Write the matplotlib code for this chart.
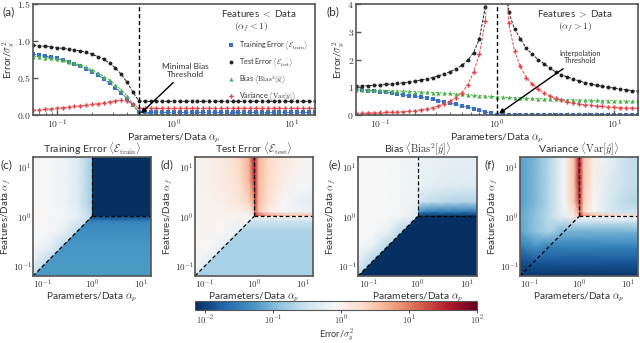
import numpy as np
import matplotlib
matplotlib.use("Agg")
import matplotlib.pyplot as plt
from matplotlib.patches import Polygon
from matplotlib.lines import Line2D
from matplotlib.ticker import FuncFormatter, FixedLocator, LogLocator, NullFormatter
from matplotlib.colors import Normalize
from matplotlib.cm import ScalarMappable

plt.rcParams["font.family"] = ["Lato", "DejaVu Sans"]
plt.rcParams["mathtext.fontset"] = "cm"
plt.rcParams["font.size"] = 7

# ---------------- line plots (a) and (b) ----------------
# alpha_p sampled every 0.05 decade from 1/16 to 16
log_alpha_p = np.arange(-1.2, 1.2001, 0.05)
alpha_p = 10 ** log_alpha_p

# (a) features < data, alpha_f = 0.5
train_a = [0.82, 0.81, 0.795, 0.78, 0.765, 0.745, 0.72, 0.69, 0.66, 0.625,
           0.585, 0.54, 0.49, 0.43, 0.37, 0.30, 0.22, 0.13, 0.04] + [0.035] * 30
test_a = [0.94, 0.935, 0.93, 0.92, 0.91, 0.90, 0.89, 0.88, 0.865, 0.845,
          0.82, 0.79, 0.755, 0.70, 0.635, 0.55, 0.44, 0.31, 0.19] + [0.185] * 30
bias_a = [0.79, 0.785, 0.775, 0.765, 0.755, 0.74, 0.72, 0.70, 0.675, 0.645,
          0.61, 0.57, 0.52, 0.47, 0.41, 0.34, 0.26, 0.15, 0.01] + [0.0] * 30
var_a = [0.065, 0.07, 0.078, 0.085, 0.092, 0.10, 0.108, 0.116, 0.124, 0.133,
         0.143, 0.155, 0.167, 0.18, 0.192, 0.20, 0.19, 0.15, 0.09] + [0.09] * 30

# (b) features > data
train_b = [0.91, 0.895, 0.88, 0.86, 0.84, 0.82, 0.79, 0.76, 0.73, 0.70,
           0.67, 0.64, 0.60, 0.56, 0.52, 0.47, 0.43, 0.38, 0.33, 0.28,
           0.23, 0.17, 0.115, 0.06, 0.0] + [0.0] * 24
test_b = [1.04, 1.05, 1.06, 1.07, 1.08, 1.10, 1.12, 1.14, 1.16, 1.19,
          1.22, 1.26, 1.30, 1.35, 1.41, 1.48, 1.56, 1.66, 1.79, 1.97,
          2.25, 2.75, 3.9, 7.5, np.nan,
          7.0, 3.7, 3.1, 2.75, 2.4, 2.2, 2.0, 1.85, 1.7, 1.55,
          1.45, 1.37, 1.3, 1.23, 1.17, 1.12, 1.07, 1.03, 1.0, 0.97,
          0.94, 0.91, 0.88, 0.86]
bias_b = [0.91, 0.905, 0.90, 0.895, 0.89, 0.88, 0.875, 0.865, 0.86, 0.85,
          0.84, 0.83, 0.82, 0.81, 0.80, 0.79, 0.775, 0.76, 0.745, 0.73,
          0.715, 0.70, 0.685, 0.67, 0.655,
          0.645, 0.635, 0.625, 0.615, 0.605, 0.595, 0.588, 0.58, 0.574, 0.567,
          0.56, 0.554, 0.548, 0.542, 0.536, 0.53, 0.525, 0.52, 0.515, 0.51,
          0.506, 0.502, 0.498, 0.495]
var_b = [0.06, 0.065, 0.07, 0.08, 0.09, 0.10, 0.105, 0.11, 0.12, 0.14,
         0.16, 0.19, 0.22, 0.26, 0.33, 0.40, 0.50, 0.63, 0.80, 1.08,
         1.55, 2.2, 3.4, 7.0, np.nan,
         7.0, 3.3, 2.3, 1.75, 1.35, 1.12, 0.93, 0.80, 0.69, 0.60,
         0.54, 0.48, 0.44, 0.40, 0.37, 0.35, 0.33, 0.31, 0.29, 0.28,
         0.27, 0.26, 0.25, 0.24]

# ---------------- heatmaps (c)-(f): values at grid nodes (log10 alpha) ----------------
L = np.log10(16)
# upper-left region (alpha_p < alpha_f, alpha_p < 1)
ul_x = [-L, -0.9, -0.6, -0.3, -0.1, 0.0]
ul_y = [-L, -0.9, -0.6, -0.3, 0.0, 0.3, 0.7, L]
# lower region (alpha_f < alpha_p, alpha_f < 1)
low_y = [-L, -0.9, -0.6, -0.3, -0.1, 0.0]
# upper-right region (alpha_p > 1, alpha_f > 1)
ur_x = [0.0, 0.1, 0.3, 0.6, 0.9, L]
ur_y = [0.0, 0.1, 0.3, 0.6, 0.9, L]

train_ul = [[0.25, 0.25, 0.25, 0.25, 0.25, 0.25],
            [0.6, 0.25, 0.25, 0.25, 0.25, 0.25],
            [0.8, 0.6, 0.25, 0.25, 0.25, 0.25],
            [0.85, 0.8, 0.6, 0.25, 0.25, 0.25],
            [0.9, 0.85, 0.75, 0.55, 0.3, 0.2],
            [0.9, 0.82, 0.7, 0.45, 0.22, 0.15],
            [0.9, 0.82, 0.7, 0.45, 0.22, 0.15],
            [0.9, 0.82, 0.7, 0.45, 0.22, 0.15]]
train_low = [0.055, 0.055, 0.05, 0.045, 0.035, 0.012]
train_ur = [[0.001] * 6] * 6

test_ul = [[0.5, 0.5, 0.5, 0.5, 0.5, 0.5],
           [0.9, 0.5, 0.5, 0.5, 0.5, 0.5],
           [0.95, 0.85, 0.5, 0.5, 0.5, 0.5],
           [0.95, 0.93, 0.85, 0.5, 0.5, 0.5],
           [1.0, 1.0, 1.0, 0.95, 0.8, 0.6],
           [1.0, 1.05, 1.15, 1.5, 2.5, 6.0],
           [1.05, 1.1, 1.3, 1.9, 4.0, 20.0],
           [1.05, 1.1, 1.35, 2.2, 5.0, 40.0]]
test_low = [0.18, 0.18, 0.18, 0.185, 0.3, 1.0]
test_ur = [[40, 20, 8, 5, 4, 4],
           [20, 3, 1.2, 0.8, 0.7, 0.6],
           [30, 3.5, 1.6, 0.9, 0.6, 0.5],
           [40, 3.8, 1.9, 1.1, 0.8, 0.7],
           [40, 3.9, 2.0, 1.25, 0.95, 0.8],
           [40, 4.0, 2.2, 1.37, 1.03, 0.86]]

bias_ul = [[0.2, 0.2, 0.2, 0.2, 0.2, 0.2],
           [0.6, 0.2, 0.2, 0.2, 0.2, 0.2],
           [0.8, 0.6, 0.2, 0.2, 0.2, 0.2],
           [0.85, 0.8, 0.6, 0.2, 0.2, 0.2],
           [0.9, 0.85, 0.8, 0.7, 0.5, 0.4],
           [0.9, 0.86, 0.82, 0.75, 0.7, 0.65],
           [0.9, 0.86, 0.82, 0.75, 0.7, 0.65],
           [0.9, 0.86, 0.82, 0.75, 0.7, 0.65]]
bias_low = [0.001] * 6
bias_ur = [[0.002] * 6,
           [0.05, 0.04, 0.03, 0.03, 0.03, 0.03],
           [0.4, 0.3, 0.25, 0.22, 0.2, 0.2],
           [0.6, 0.55, 0.5, 0.45, 0.42, 0.4],
           [0.65, 0.6, 0.57, 0.53, 0.51, 0.5],
           [0.65, 0.615, 0.59, 0.55, 0.52, 0.5]]

var_ul = [[0.008] * 6,
          [0.012, 0.015, 0.015, 0.015, 0.015, 0.015],
          [0.03, 0.05, 0.035, 0.035, 0.035, 0.035],
          [0.065, 0.12, 0.2, 0.09, 0.09, 0.09],
          [0.07, 0.12, 0.25, 0.6, 1.2, 3.0],
          [0.06, 0.1, 0.22, 0.8, 3.0, 20.0],
          [0.06, 0.1, 0.22, 0.8, 3.4, 40.0],
          [0.06, 0.1, 0.22, 0.8, 3.4, 40.0]]
var_low = [0.008, 0.015, 0.035, 0.09, 0.3, 0.8]
var_ur = [[40, 10, 5, 3, 2, 2],
          [20, 2, 0.8, 0.4, 0.3, 0.3],
          [30, 2.5, 0.9, 0.4, 0.25, 0.2],
          [40, 3, 1.0, 0.45, 0.3, 0.24],
          [40, 3.2, 1.1, 0.5, 0.3, 0.25],
          [40, 3.3, 1.12, 0.6, 0.31, 0.24]]

VMIN, VMAX = -2.15, 2.0
cmap = plt.get_cmap("RdBu_r")
SPINE = "#555555"
TXT = "#333333"

fig = plt.figure(figsize=(6.4, 3.43), dpi=100)
W, H = 640, 343


def px_axes(x0, y0, x1, y1):
    return fig.add_axes([x0 / W, 1 - y1 / H, (x1 - x0) / W, (y1 - y0) / H])


def style_spines(ax):
    for s in ax.spines.values():
        s.set_color(SPINE)
        s.set_linewidth(1.2)


def pow_fmt(v, _):
    return r"$10^{%d}$" % round(np.log10(v))


# ---------- (a) and (b) ----------
ax_a = px_axes(33, 4, 315, 115)
ax_b = px_axes(356, 4, 638, 115)

styles = [("Training Error $\\langle\\mathcal{E}_{\\rm train}\\rangle$", "#3b6fc0", "s", 2.6),
          ("Test Error $\\langle\\mathcal{E}_{\\rm test}\\rangle$", "#222222", "o", 2.8),
          ("Bias $\\langle\\mathrm{Bias}^2[\\hat{y}]\\rangle$", "#4caf50", "^", 3.0),
          ("Variance $\\langle\\mathrm{Var}[\\hat{y}]\\rangle$", "#e0474c", "P", 3.2)]

for ax, series, thr, ymax in [(ax_a, [train_a, test_a, bias_a, var_a], 0.5, 1.5),
                              (ax_b, [train_b, test_b, bias_b, var_b], 1.0, 4.0)]:
    for vals, (lab, col, mk, ms) in zip(series, styles):
        ax.plot(alpha_p, vals, ls="--", lw=0.7, color=col, marker=mk, ms=ms, mew=0,
                dashes=(3, 1.5))
    ax.axvline(thr, color="k", ls="--", lw=1, dashes=(3, 2))
    ax.set_xscale("log")
    ax.set_xlim(1 / 16, 16)
    ax.set_ylim(0, ymax)
    ax.xaxis.set_major_locator(FixedLocator([0.1, 1, 10]))
    ax.xaxis.set_major_formatter(FuncFormatter(pow_fmt))
    ax.xaxis.set_minor_locator(LogLocator(base=10, subs=np.arange(2, 10)))
    ax.xaxis.set_minor_formatter(NullFormatter())
    ax.tick_params(which="both", direction="in", colors=SPINE, labelcolor=TXT,
                   labelsize=7, pad=1.5)
    ax.tick_params(which="major", length=3.5, width=1)
    ax.tick_params(which="minor", length=2, width=0.6)
    ax.set_xlabel(r"Parameters/Data $\alpha_p$", fontsize=7.5, labelpad=1, color=TXT)
    ax.set_ylabel(r"Error/$\sigma_y^2$", fontsize=7.2, labelpad=0, color=TXT)
    style_spines(ax)

ax_a.yaxis.set_major_locator(FixedLocator([0, 0.5, 1.0, 1.5]))
ax_a.yaxis.set_major_formatter(FuncFormatter(lambda v, _: r"$%.1f$" % v))
ax_b.yaxis.set_major_locator(FixedLocator([0, 1, 2, 3, 4]))
ax_b.yaxis.set_major_formatter(FuncFormatter(lambda v, _: r"$%d$" % v))

handles = [Line2D([], [], ls="none", color=c, marker=m, ms=ms, mew=0) for _, c, m, ms in styles]
ax_a.legend(handles, [s[0] for s in styles], loc="upper left", bbox_to_anchor=(0.69, 0.685),
            frameon=False, fontsize=5.2, handlelength=1.0, handletextpad=0.6,
            borderpad=0, borderaxespad=0, labelspacing=0.55, labelcolor=TXT)

ax_a.text(0.80, 0.915, "Features $<$ Data", transform=ax_a.transAxes, ha="center",
          va="center", fontsize=7, color=TXT)
ax_a.text(0.775, 0.79, r"$(\alpha_f < 1)$", transform=ax_a.transAxes, ha="center",
          va="center", fontsize=7, color=TXT)
ax_b.text(0.777, 0.915, "Features $>$ Data", transform=ax_b.transAxes, ha="center",
          va="center", fontsize=7, color=TXT)
ax_b.text(0.777, 0.79, r"$(\alpha_f > 1)$", transform=ax_b.transAxes, ha="center",
          va="center", fontsize=7, color=TXT)

ax_a.annotate("Minimal Bias\nThreshold", xy=(0.52, 0.02), xytext=(1.26, 0.6),
              ha="center", va="center", fontsize=6, color=TXT, linespacing=1.1,
              arrowprops=dict(arrowstyle="-|>", color="k", lw=1, mutation_scale=7,
                              shrinkA=2, shrinkB=0))
ax_b.annotate("Interpolation\nThreshold", xy=(1.04, 0.05), xytext=(5.1, 2.09),
              ha="center", va="center", fontsize=5.3, color=TXT, linespacing=1.1,
              arrowprops=dict(arrowstyle="-|>", color="k", lw=1, mutation_scale=7,
                              shrinkA=2, shrinkB=0))

# ---------- (c)-(f) ----------
heat_axes = [px_axes(33, 157, 151, 276), px_axes(195, 157, 313, 276),
             px_axes(358, 157, 477, 276), px_axes(520, 157, 638, 276)]
titles = [r"Training Error $\langle\mathcal{E}_{\rm train}\rangle$",
          r"Test Error $\langle\mathcal{E}_{\rm test}\rangle$",
          r"Bias $\langle\mathrm{Bias}^2[\hat{y}]\rangle$",
          r"Variance $\langle\mathrm{Var}[\hat{y}]\rangle$"]
tables = [(train_ul, train_low, train_ur), (test_ul, test_low, test_ur),
          (bias_ul, bias_low, bias_ur), (var_ul, var_low, var_ur)]

poly_ul = [(-L, -L), (0, 0), (0, L), (-L, L)]
poly_low = [(-L, -L), (L, -L), (L, 0), (0, 0)]
poly_ur = [(0, 0), (L, 0), (L, L), (0, L)]


def region(ax, xs, ys, vals, verts):
    mesh = ax.pcolormesh(xs, ys, np.log10(np.asarray(vals, float)), shading="gouraud",
                         cmap=cmap, vmin=VMIN, vmax=VMAX, rasterized=True)
    clip = Polygon(verts, closed=True, transform=ax.transData)
    mesh.set_clip_path(clip)


for ax, title, (ul, low, ur) in zip(heat_axes, titles, tables):
    region(ax, ul_x, ul_y, ul, poly_ul)
    low_arr = np.asarray(low, float)
    region(ax, [-L, L], low_y, np.column_stack([low_arr, low_arr]), poly_low)
    region(ax, ur_x, ur_y, ur, poly_ur)
    ax.plot([-L, 0], [-L, 0], color="k", ls="--", lw=0.9, dashes=(3, 2))
    ax.plot([0, L], [0, 0], color="k", ls="--", lw=0.9, dashes=(3, 2))
    ax.plot([0, 0], [0, L], color="k", ls="--", lw=0.9, dashes=(3, 2))
    ax.set_xlim(-L, L)
    ax.set_ylim(-L, L)
    ax.set_xticks([-1, 0, 1])
    ax.set_yticks([-1, 0, 1])
    ax.set_xticklabels([r"$10^{-1}$", r"$10^{0}$", r"$10^{1}$"])
    ax.set_yticklabels([r"$10^{-1}$", r"$10^{0}$", r"$10^{1}$"])
    ax.tick_params(direction="in", length=0, labelsize=6.5, pad=1, labelcolor=TXT)
    ax.set_xlabel(r"Parameters/Data $\alpha_p$", fontsize=7.3, labelpad=0, color=TXT)
    ax.set_ylabel(r"Features/Data $\alpha_f$", fontsize=7, labelpad=0, color=TXT)
    ax.set_title(title, fontsize=7.5, pad=3, color=TXT)
    style_spines(ax)

# panel letters
for lab, x, y in [("(a)", 9, 12), ("(b)", 333, 12), ("(c)", 6, 165),
                  ("(d)", 167, 165), ("(e)", 335, 165), ("(f)", 490, 165)]:
    fig.text(x / W, 1 - y / H, lab, ha="center", va="center", fontsize=8.5, color=TXT)

# colorbar
cax = px_axes(195, 301, 477, 310)
cb = fig.colorbar(ScalarMappable(norm=Normalize(VMIN, VMAX), cmap=cmap), cax=cax,
                  orientation="horizontal")
cb.set_ticks([-2, -1, 0, 1, 2])
cb.set_ticklabels([r"$10^{-2}$", r"$10^{-1}$", r"$10^{0}$", r"$10^{1}$", r"$10^{2}$"])
cb.ax.tick_params(labelsize=6.3, length=2, pad=1, colors=SPINE, labelcolor=TXT)
cb.outline.set_edgecolor(SPINE)
cb.outline.set_linewidth(0.8)
cb.set_label(r"Error/$\sigma_y^2$", fontsize=6.5, labelpad=0.5, color=TXT)

fig.savefig("out.png", dpi=100)
